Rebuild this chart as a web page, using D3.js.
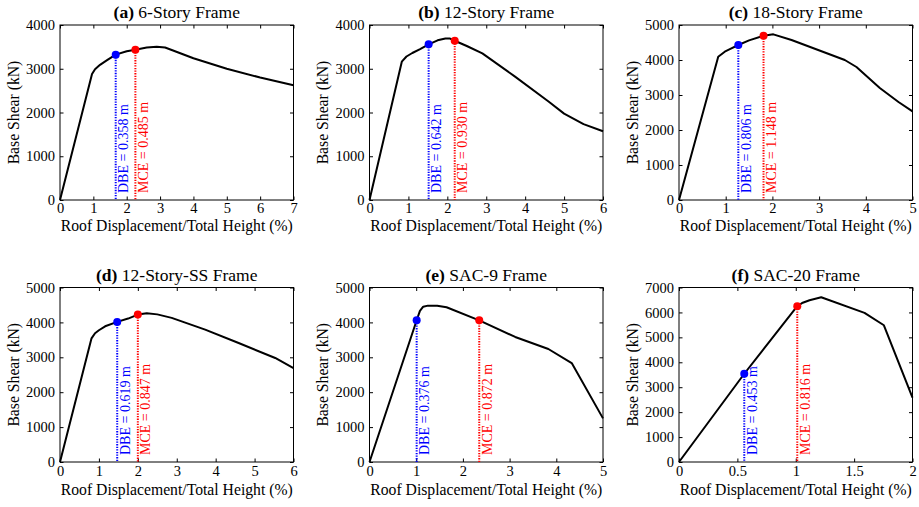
<!DOCTYPE html>
<html>
<head>
<meta charset="utf-8">
<script src="https://cdn.jsdelivr.net/npm/d3@7"></script>
<style>
  html, body { margin: 0; padding: 0; background: #fff; }
  svg { display: block; }
</style>
</head>
<body>
<svg id="chart" width="919" height="507"></svg>
<script>
// ---------------- DATA ----------------
const titleBold = ["(a)", "(b)", "(c)", "(d)", "(e)", "(f)"];
const titleText = ["6-Story Frame", "12-Story Frame", "18-Story Frame", "12-Story-SS Frame", "SAC-9 Frame", "SAC-20 Frame"];

const xMax = [7, 6, 5, 6, 5, 2];
const yMax = [4000, 4000, 5000, 5000, 5000, 7000];
const xTicks = [
  [0, 1, 2, 3, 4, 5, 6, 7],
  [0, 1, 2, 3, 4, 5, 6],
  [0, 1, 2, 3, 4, 5],
  [0, 1, 2, 3, 4, 5, 6],
  [0, 1, 2, 3, 4, 5],
  [0, 0.5, 1, 1.5, 2]
];
const yTicks = [
  [0, 1000, 2000, 3000, 4000],
  [0, 1000, 2000, 3000, 4000],
  [0, 1000, 2000, 3000, 4000, 5000],
  [0, 1000, 2000, 3000, 4000, 5000],
  [0, 1000, 2000, 3000, 4000, 5000],
  [0, 1000, 2000, 3000, 4000, 5000, 6000, 7000]
];

// Pushover curves: roof displacement / total height (%) vs base shear (kN)
const dispA  = [0, 0.96, 1.05, 1.2, 1.4, 1.67, 2.0, 2.26, 2.6, 2.9, 3.15, 3.35, 4, 5, 6, 7];
const shearA = [0, 2880, 2990, 3090, 3190, 3322, 3400, 3436, 3485, 3505, 3485, 3430, 3240, 3000, 2800, 2625];

const dispB  = [0, 0.83, 0.95, 1.1, 1.3, 1.52, 1.75, 1.95, 2.07, 2.19, 2.5, 2.9, 3.74, 4.6, 5.0, 5.5, 6];
const shearB = [0, 3162, 3280, 3360, 3450, 3558, 3650, 3690, 3690, 3640, 3520, 3352, 2819, 2250, 1975, 1735, 1570];

const dispC  = [0, 0.84, 0.98, 1.1, 1.27, 1.5, 1.81, 2.02, 2.41, 2.98, 3.55, 3.8, 4.3, 4.7, 5];
const shearC = [0, 4095, 4238, 4320, 4429, 4560, 4695, 4733, 4571, 4286, 4000, 3800, 3200, 2800, 2530];

const dispD  = [0, 0.81, 0.9, 1.0, 1.16, 1.47, 1.75, 2.0, 2.23, 2.5, 2.87, 3.73, 4.59, 5.53, 6];
const shearD = [0, 3544, 3690, 3775, 3888, 4014, 4110, 4224, 4260, 4230, 4129, 3793, 3410, 2980, 2690];

const dispE  = [0, 1.01, 1.08, 1.15, 1.25, 1.45, 1.65, 2.35, 3.12, 3.83, 4.33, 5];
const shearE = [0, 4060, 4330, 4450, 4480, 4478, 4434, 4060, 3583, 3238, 2836, 1250];

const dispF  = [0, 0.559, 1.013, 1.06, 1.118, 1.218, 1.589, 1.755, 2];
const shearF = [0, 3540, 6249, 6390, 6491, 6611, 5981, 5485, 2580];

const dispAll  = [dispA, dispB, dispC, dispD, dispE, dispF];
const shearAll = [shearA, shearB, shearC, shearD, shearE, shearF];

// Performance points (DBE / MCE)
const dbeDisp  = [1.67, 1.52, 1.27, 1.47, 1.01, 0.559];
const dbeShear = [3322, 3558, 4429, 4014, 4060, 3540];
const dbeLabel = ["DBE = 0.358 m", "DBE = 0.642 m", "DBE = 0.806 m", "DBE = 0.619 m", "DBE = 0.376 m", "DBE = 0.453 m"];
const mceDisp  = [2.26, 2.19, 1.81, 2.0, 2.35, 1.013];
const mceShear = [3436, 3640, 4695, 4224, 4060, 6249];
const mceLabel = ["MCE = 0.485 m", "MCE = 0.930 m", "MCE = 1.148 m", "MCE = 0.847 m", "MCE = 0.872 m", "MCE = 0.816 m"];

const xLabel = "Roof Displacement/Total Height (%)";
const yLabel = "Base Shear (kN)";

// ---------------- LAYOUT ----------------
const FONT = "Liberation Serif";
const colLeft = [60, 369.5, 679];
const rowTop = [25, 287.5];
const plotW = 233.5;
const rowH = [175, 174.5];
const tickPad = [3, 4];
const xLabelDy = [30.5, 32.5];
const DBE_COLOR = "#0000ff";
const MCE_COLOR = "#ff0000";

const svg = d3.select("#chart").style("font-family", FONT);

for (let i = 0; i < 6; i++) {
  const col = i % 3, row = Math.floor(i / 3);
  const L = colLeft[col], T = rowTop[row], W = plotW, H = rowH[row];
  const g = svg.append("g").attr("transform", `translate(${L},${T})`);

  const x = d3.scaleLinear().domain([0, xMax[i]]).range([0, W]);
  const y = d3.scaleLinear().domain([0, yMax[i]]).range([H, 0]);

  const tickLen = 3.5;
  const xb = g.append("g").attr("transform", `translate(0,${H})`)
    .call(d3.axisBottom(x).tickValues(xTicks[i]).tickSize(-tickLen).tickPadding(tickPad[row]).tickFormat(d3.format("")));
  const xt = g.append("g")
    .call(d3.axisTop(x).tickValues(xTicks[i]).tickSize(-tickLen).tickFormat(""));
  const yl = g.append("g")
    .call(d3.axisLeft(y).tickValues(yTicks[i]).tickSize(-tickLen).tickPadding(5).tickFormat(d3.format("d")));
  const yr = g.append("g").attr("transform", `translate(${W},0)`)
    .call(d3.axisRight(y).tickValues(yTicks[i]).tickSize(-tickLen).tickFormat(""));

  [xb, xt, yl, yr].forEach(a => {
    a.attr("font-family", null).attr("font-size", null);
    a.select(".domain").remove();
    a.selectAll(".tick line").attr("stroke", "#000").attr("stroke-width", 1);
    a.selectAll(".tick text").style("font-family", FONT).style("font-size", "14.5px").attr("fill", "#000");
  });

  g.append("rect").attr("x", 0).attr("y", 0).attr("width", W).attr("height", H)
    .attr("fill", "none").attr("stroke", "#000").attr("stroke-width", 1);

  const pts = [
    { d: dbeDisp[i], s: dbeShear[i], c: DBE_COLOR, lab: dbeLabel[i] },
    { d: mceDisp[i], s: mceShear[i], c: MCE_COLOR, lab: mceLabel[i] }
  ];
  pts.forEach(p => {
    g.append("line")
      .attr("x1", x(p.d)).attr("x2", x(p.d))
      .attr("y1", y(p.s)).attr("y2", y(0))
      .attr("stroke", p.c).attr("stroke-width", 2).attr("stroke-dasharray", "1.3,1.3");
  });

  const data = dispAll[i].map((d, k) => [d, shearAll[i][k]]);
  g.append("path").datum(data)
    .attr("fill", "none").attr("stroke", "#000").attr("stroke-width", 2)
    .attr("stroke-linejoin", "round")
    .attr("d", d3.line().x(d => x(d[0])).y(d => y(d[1])));

  pts.forEach(p => {
    g.append("text")
      .attr("transform", `translate(${x(p.d) + 12.5},${H - 7}) rotate(-90)`)
      .style("font-family", FONT).style("font-size", "14px").attr("fill", p.c)
      .text(p.lab);
    g.append("circle").attr("cx", x(p.d)).attr("cy", y(p.s)).attr("r", 4).attr("fill", p.c);
  });

  const t = g.append("text").attr("x", W / 2).attr("y", -7).attr("text-anchor", "middle")
    .style("font-family", FONT).style("font-size", "17.5px").attr("fill", "#000");
  t.append("tspan").attr("font-weight", "bold").text(titleBold[i]);
  t.append("tspan").text(" " + titleText[i]);

  g.append("text").attr("x", W / 2).attr("y", H + xLabelDy[row]).attr("text-anchor", "middle")
    .style("font-family", FONT).style("font-size", "15.7px").attr("fill", "#000").text(xLabel);
  g.append("text").attr("transform", `translate(-41.5,${H / 2}) rotate(-90)`)
    .attr("text-anchor", "middle")
    .style("font-family", FONT).style("font-size", "15.7px").attr("fill", "#000").text(yLabel);
}
</script>
</body>
</html>
